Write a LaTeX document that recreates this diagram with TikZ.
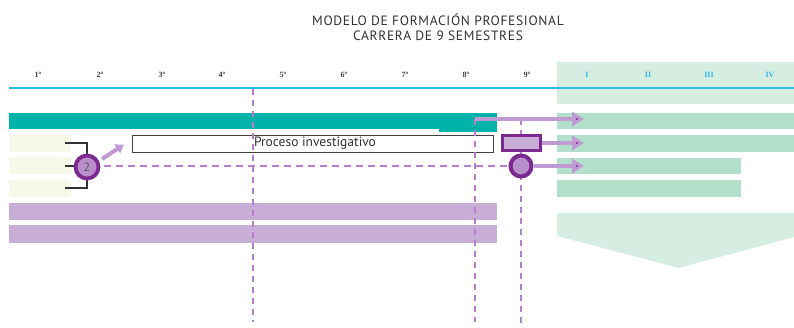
\documentclass[tikz,border=0pt]{standalone}
\usepackage{fontspec}
\setmainfont{Liberation Serif}
\newfontfamily\dinfont{PT Sans}
\newfontfamily\dinwide[LetterSpace=5]{PT Sans}
\usetikzlibrary{arrows.meta}
\definecolor{teal1}{HTML}{00B3AA}
\definecolor{mint}{HTML}{B2E0CB}
\definecolor{mintpale}{HTML}{D6EEE2}
\definecolor{lila}{HTML}{C8ADD6}
\definecolor{lilaarrow}{HTML}{C09AD2}
\definecolor{purpdark}{HTML}{7C2A90}
\definecolor{dashlila}{HTML}{B77ECF}
\definecolor{cyanline}{HTML}{2DBCE8}
\definecolor{paleyellow}{HTML}{F6F8E8}
\definecolor{romancol}{HTML}{35B5DF}
\tikzset{
  semlabel/.style={font=\fontsize{8}{9}\selectfont\bfseries, text=black!75, inner sep=0},
  romlabel/.style={font=\fontsize{8}{9}\selectfont\bfseries, text=romancol, inner sep=0},
  vdash/.style={draw=dashlila, line width=1.8pt, dash pattern=on 6pt off 5pt},
  hdash/.style={draw=dashlila, line width=1.8pt, dash pattern=on 7pt off 5pt},
  bigarrow/.style={draw=lilaarrow, line width=4.5pt, -{Triangle[length=12pt,width=14pt]}},
  smallarrow/.style={draw=lilaarrow, line width=4pt, -{Triangle[length=8pt,width=10pt]}},
  bracket/.style={draw=black!80, line width=1.3pt},
  titletext/.style={font=\dinwide\fontsize{13.5}{16}\selectfont, text=black!80, inner sep=0, align=center},
}
\begin{document}
\begin{tikzpicture}[x=1pt,y=-1pt]
\useasboundingbox (0,0) rectangle (794,328);
\fill[white] (0,0) rectangle (794,328);

% title
\node[titletext] (title1) at (438,20) {MODELO DE FORMACIÓN PROFESIONAL};
\node[titletext] (title2) at (438,36) {CARRERA DE 9 SEMESTRES};

% header background
\fill[mintpale] (557,62) rectangle (794,104);

% semester labels
\foreach \i/\x in {1/38,2/100,3/162,4/222,5/283,6/344,7/405,8/466,9/527}
  \node[semlabel] (s\i) at (\x,75) {\i º};
\foreach \r/\x/\n in {I/587/r1,II/648/r2,III/709/r3,IV/770/r4}
  \node[romlabel] (\n) at (\x,75) {\r};

% cyan line
\draw[cyanline, line width=2.2pt] (9,88) -- (794,88);

% teal bar
\fill[teal1] (9,113) rectangle (497,129);
\fill[teal1] (439,113) rectangle (497,132);

% mint bars right
\fill[mint] (557,113) rectangle (794,129);
\fill[mint] (557,135) rectangle (794,152);
\fill[mint] (557,158) rectangle (741,174);
\fill[mint] (557,180) rectangle (741,197);
% pentagon
\fill[mintpale] (557,213) -- (794,213) -- (794,237) -- (679,268) -- (557,236) -- cycle;

% pale yellow rects
\fill[paleyellow] (9,135) rectangle (71,152);
\fill[paleyellow] (9,157) rectangle (71,174);
\fill[paleyellow] (9,180) rectangle (71,197);

% purple bars
\fill[lila] (9,203) rectangle (497,220);
\fill[lila] (9,225) rectangle (497,243);

% process box
\node[draw=black!75, line width=1.3pt, fill=white, minimum width=361pt, minimum height=17pt, inner sep=0, anchor=north west] (proc) at (132,135) {};
\node[font=\dinfont\fontsize{13.5}{14}\selectfont, text=black!80, inner sep=0] (proctext) at (315,143.5) {Proceso investigativo};

% coordinates
\coordinate (v1top) at (253,89);
\coordinate (v1bot) at (253,322);
\coordinate (a1start) at (475,119);
\coordinate (v2bot) at (475,322);
\coordinate (v3top) at (521,119);
\coordinate (v3bot) at (521,328);
\coordinate (a1end) at (584,119);
\coordinate (a2end) at (584,143);
\coordinate (a3end) at (584,166);
\coordinate (hstart) at (104,166);
\coordinate (sastart) at (102,159);
\coordinate (saend) at (124,144.5);

% vertical dashed lines
\draw[vdash] (v1top) -- (v1bot);
\draw[vdash] (a1start) -- (v2bot);
\draw[vdash] (v3top) -- (v3bot);

% bracket
\draw[bracket] (65,143) -- (87,143) -- (87,188) -- (65,188);
\draw[bracket] (65,166) -- (87,166);

% circle 2
\node[circle, draw=purpdark, line width=3.8pt, fill=lilaarrow!90!purpdark, minimum size=23pt, inner sep=0,
  font=\dinfont\fontsize{12}{12}\selectfont, text=black!65] (c2) at (87,167) {2};

% 9th semester rect and circle
\node[draw=purpdark, line width=3.2pt, fill=lila, minimum width=38pt, minimum height=15pt, inner sep=0] (rect9) at (521.5,143) {};
\node[circle, draw=purpdark, line width=4pt, fill=lilaarrow!90!purpdark, minimum size=21pt, inner sep=0] (c9) at (521,166) {};

% horizontal dashed
\draw[hdash] (hstart) -- (c9.west);

% arrows
\draw[bigarrow] (a1start) -- (a1end);
\draw[bigarrow] (rect9.east) -- (a2end);
\draw[bigarrow] (c9.east) -- (a3end);
\draw[smallarrow] (sastart) -- (saend);
\foreach \y in {119,143,166} \fill[purpdark] (577,\y) circle (1.2pt);
\end{tikzpicture}
\end{document}
